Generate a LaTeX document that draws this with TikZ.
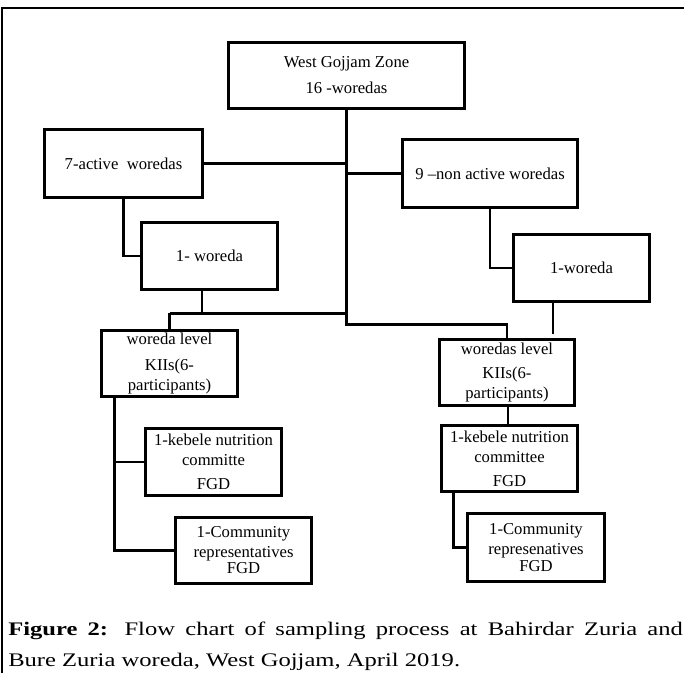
\documentclass[tikz,border=0pt]{standalone}
\usepackage{fontspec}
\setmainfont{Liberation Serif}
\newfontfamily\capfont[FakeStretch=1.28]{Liberation Serif}
\usetikzlibrary{calc}
\begin{document}
\begin{tikzpicture}[x=0.75pt,y=-0.75pt,
  box/.style={draw,line width=2.2pt,inner sep=0pt,align=center,
    minimum width=102pt,minimum height=50pt,
    font=\fontsize{12.5}{15}\selectfont},
  conn/.style={line width=2.2pt},
  frameline/.style={line width=1.2pt},
  captext/.style={anchor=base west,inner sep=0pt,font=\capfont\fontsize{14.4}{18}\selectfont}]
\useasboundingbox (0,0) rectangle (684,683);
\draw[frameline] (2,673) -- (2,8) -- (684,8);
% boxes
\node[box,minimum width=177pt,minimum height=49.5pt] (a) at (346.5,75.5) {West Gojjam Zone\\[4.5pt]16 -woredas};
\node[box,minimum width=118.5pt,minimum height=51pt] (b) at (123.5,163.5) {7-active\ \ woredas};
\node[box,minimum width=131.25pt,minimum height=51pt] (c) at (490,173.5) {9 –non active woredas};
\node[box] (d) at (209.5,256) {1- woreda};
\node[box] (e) at (581.5,268) {1-woreda};
\node[box,minimum height=49.5pt] (f) at (169.5,363.5) {woreda level\\[4pt]KIIs(6-\\participants)};
\node[box,minimum width=101.25pt,minimum height=49.5pt] (g) at (507,372.5) {woredas level\\[3pt]KIIs(6-\\participants)};
\node[box] (h) at (213.5,462) {1-kebele nutrition\\committe\\[3pt]FGD};
\node[box,minimum height=49.5pt] (i) at (509.5,458.5) {1-kebele nutrition\\committee\\[3pt]FGD};
\node[box,minimum height=49.5pt] (j) at (243.5,550.5) {1-Community\\representatives\\[-3pt]FGD};
\node[box,minimum width=102.75pt,minimum height=51pt] (k) at (536,547.5) {1-Community\\represenatives\\[-2pt]FGD};
% connectors
\coordinate (t1) at ($(a.south)+(0,214.5)$);
\draw[conn] (a.south) -- (t1) -| (g.north);
\draw[conn] (b.east) -- (b.east -| a.south);
\draw[conn] (c.west) -- (c.west -| a.south);
\draw[conn] (b.south) |- (d.west);
\draw[conn] (c.south) |- (e.west);
\coordinate (dd) at ($(d.south)+(-7.5,0)$);
\coordinate (j1) at ($(f.north)+(0,-16)$);
\draw[conn] (dd) -- (dd |- j1);
\draw[conn] (j1) -- (j1 -| a.south);
\draw[conn] (j1) -- (f.north);
\coordinate (ee) at ($(e.south)+(-28.5,0)$);
\draw[conn] (ee) -- ($(ee |- g.north)+(0,-4)$);
\coordinate (ff) at ($(f.south west)+(14,0)$);
\draw[conn] (ff) |- (j.west);
\draw[conn] (ff |- h.west) -- (h.west);
\draw[conn] (g.south -| 508,0) -- (i.north -| 508,0);
\coordinate (ii) at ($(i.south west)+(13,0)$);
\draw[conn] (ii) |- (k.west);
% caption
\node[captext] (cap1) at (8,635) {\makebox[506pt][s]{\textbf{Figure 2:} Flow chart of sampling process at Bahirdar Zuria and}};
\node[captext] (cap2) at (8,666) {Bure Zuria woreda, West Gojjam, April 2019.};
\end{tikzpicture}
\end{document}
